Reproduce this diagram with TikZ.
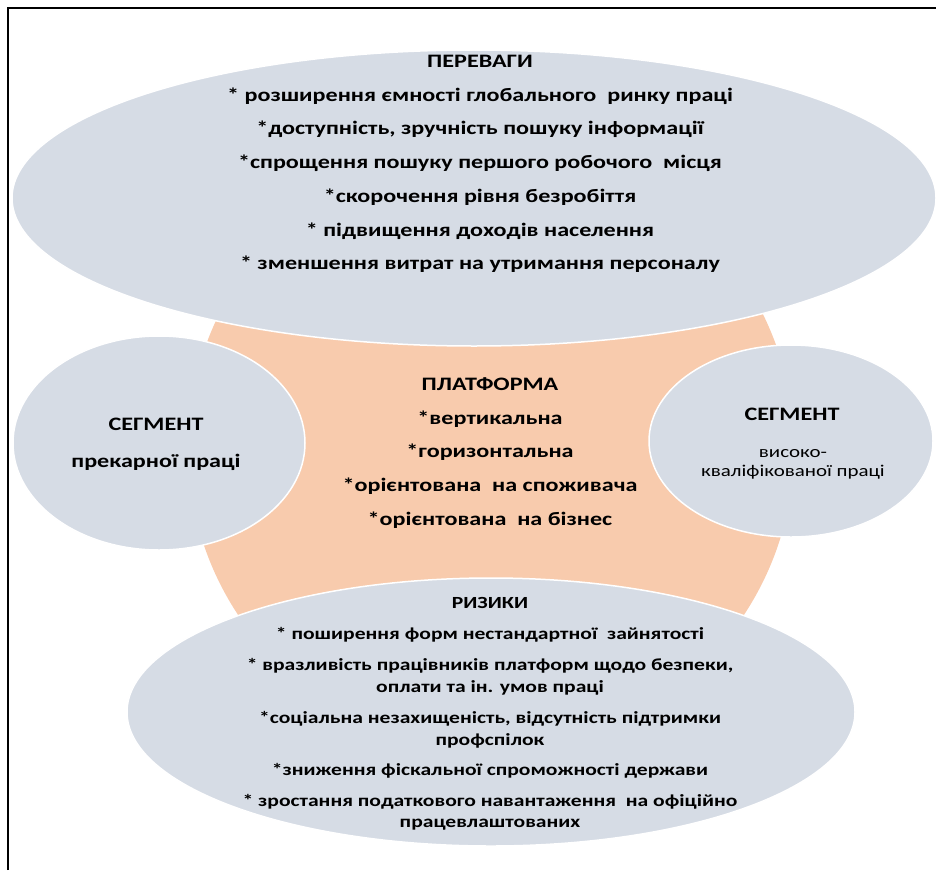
\documentclass[tikz,border=0pt]{standalone}
\usepackage{fontspec}
\setmainfont{Carlito}[FakeStretch=1.27]
\usepackage{xcolor}
\definecolor{segfill}{HTML}{D6DCE5}
\definecolor{platfill}{HTML}{F8CBAD}

\begin{document}
\begin{tikzpicture}[
    x=1pt,
    y=-1pt,
    blob/.style={
        fill=segfill,
        draw=white,
        line width=1.5pt
    },
    core/.style={
        fill=platfill
    },
    bigtext/.style={
        align=center,
        font=\bfseries\fontsize{19}{33.7}\selectfont
    },
    risktext/.style={
        align=center,
        font=\bfseries\fontsize{17}{21.5}\selectfont
    }
]

\useasboundingbox (0,0) rectangle (936,870);


\fill[core] (491,448) circle (303pt);


\filldraw[blob] (474,198) ellipse [x radius=462pt, y radius=148pt];
\filldraw[blob] (159,443) ellipse [x radius=146pt, y radius=107pt];
\filldraw[blob] (791,441) ellipse [x radius=142pt, y radius=96pt];
\filldraw[blob] (491,712) ellipse [x radius=364pt, y radius=134pt];


\draw[line width=2pt] (8,870) -- (8,8) -- (936,8);


\node[bigtext] (pros) at (480,164)
    {ПЕРЕВАГИ\\
    * розширення ємності глобального\ \ ринку праці\\
    *доступність, зручність пошуку інформації\\
    *спрощення пошуку першого робочого\ \ місця\\
    *скорочення рівня безробіття\\
    * підвищення доходів населення\\
    * зменшення витрат на утримання персоналу};

\node[bigtext] (platform) at (490,453)
    {ПЛАТФОРМА\\
    *вертикальна\\
    *горизонтальна\\
    *орієнтована\ \ на споживача\\
    *орієнтована\ \ на бізнес};

\node[bigtext, font=\bfseries\fontsize{19}{37}\selectfont] (precarious) at (156,444)
    {СЕГМЕНТ\\
    прекарної праці};

\node[bigtext] (skilledhead) at (792,414) {СЕГМЕНТ};
\node[align=center, font=\fontsize{16.5}{19}\selectfont] (skilled) at (793,464)
    {високо-\\
    кваліфікованої праці};

\node[risktext] (risks) at (490,714)
    {РИЗИКИ\\[9pt]
    * поширення форм нестандартної\ \ зайнятості\\[10pt]
    * вразливість працівників платформ щодо безпеки,\\
    оплати та ін. умов праці\\[10pt]
    *соціальна незахищеність, відсутність підтримки\\
    профспілок\\[9pt]
    *зниження фіскальної спроможності держави\\[9pt]
    * зростання податкового навантаження\ \ на офіційно\\
    працевлаштованих};

\end{tikzpicture}
\end{document}
